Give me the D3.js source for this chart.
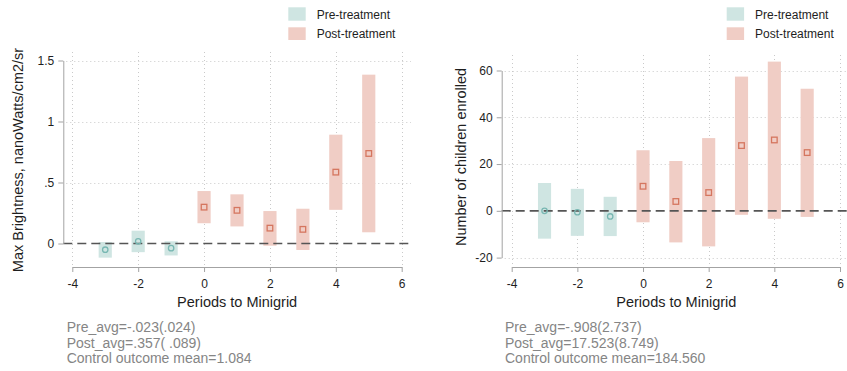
<!DOCTYPE html>
<html>
<head>
<meta charset="utf-8">
<script src="https://cdn.jsdelivr.net/npm/d3@7"></script>
<style>
  html, body { margin: 0; padding: 0; background: #ffffff; }
  svg { display: block; font-family: "Liberation Sans", Arial, Helvetica, sans-serif; }
</style>
</head>
<body>
<svg id="chart" width="847" height="371"></svg>
<script>
// Event-study estimates by period relative to minigrid arrival
const periods = [-3, -2, -1, 0, 1, 2, 3, 4, 5];
const xTicks = [-4, -2, 0, 2, 4, 6];
const xTitle = "Periods to Minigrid";

// Night-time light brightness
const brightEst = [-0.051, 0.018, -0.038, 0.298, 0.272, 0.126, 0.116, 0.585, 0.738];
const brightLo  = [-0.116, -0.071, -0.098, 0.166, 0.140, -0.018, -0.053, 0.276, 0.092];
const brightHi  = [0.012, 0.105, 0.018, 0.430, 0.403, 0.266, 0.285, 0.892, 1.384];
const brightTicks = [0, 0.5, 1, 1.5];
const brightTickLabels = ["0", ".5", "1", "1.5"];
const brightTitle = "Max Brightness, nanoWatts/cm2/sr";
const brightNotes = ["Pre_avg=-.023(.024)", "Post_avg=.357( .089)", "Control outcome mean=1.084"];

// School enrolment
const enrolEst = [0.0, -0.6, -2.4, 10.5, 4.0, 7.8, 27.9, 30.3, 24.9];
const enrolLo  = [-11.9, -10.7, -10.8, -4.9, -13.5, -15.2, -1.7, -3.4, -2.6];
const enrolHi  = [11.9, 9.4, 6.0, 25.9, 21.3, 31.1, 57.4, 63.8, 52.2];
const enrolTicks = [-20, 0, 20, 40, 60];
const enrolTickLabels = ["-20", "0", "20", "40", "60"];
const enrolTitle = "Number of children enrolled";
const enrolNotes = ["Pre_avg=-.908(2.737)", "Post_avg=17.523(8.749)", "Control outcome mean=184.560"];

const legendLabels = ["Pre-treatment", "Post-treatment"];

const colors = {
  preFill: "#cfe5e2",
  preMark: "#78b7b2",
  postFill: "#f0cdc5",
  postMark: "#d5765f",
  axis: "#a3a3a3",
  grid: "#c9c9c9",
  zero: "#555555",
  text: "#1e1e1e",
  note: "#858585"
};

const svg = d3.select("#chart");
svg.append("rect").attr("width", 847).attr("height", 371).attr("fill", "#fff");

function drawPanel(cfg) {
  const g = svg.append("g");
  const x = d3.scaleLinear().domain([xTicks[0], xTicks[xTicks.length - 1]]).range(cfg.xRange);
  const y = d3.scaleLinear().domain([cfg.yTicks[0], cfg.yTicks[cfg.yTicks.length - 1]]).range(cfg.yRange);

  const rows = periods.map((p, i) => ({ p, est: cfg.est[i], lo: cfg.lo[i], hi: cfg.hi[i], pre: p < 0 }));

  // dotted grid
  const grid = g.append("g")
    .attr("stroke", colors.grid).attr("stroke-width", 1).attr("stroke-dasharray", "1,3");
  grid.selectAll("line.h").data(cfg.yTicks.filter(t => t !== 0)).join("line")
    .attr("x1", cfg.plotLeft + 3).attr("x2", cfg.plotRight)
    .attr("y1", d => Math.round(y(d)) + 0.5).attr("y2", d => Math.round(y(d)) + 0.5);
  grid.selectAll("line.v").data(xTicks).join("line")
    .attr("x1", d => Math.round(x(d)) + 0.5).attr("x2", d => Math.round(x(d)) + 0.5)
    .attr("y1", cfg.plotTop).attr("y2", cfg.axisY);

  // confidence bands
  const half = 0.2;
  g.append("g").selectAll("rect").data(rows).join("rect")
    .attr("x", d => x(d.p - half))
    .attr("width", d => x(d.p + half) - x(d.p - half))
    .attr("y", d => y(d.hi))
    .attr("height", d => y(d.lo) - y(d.hi))
    .attr("fill", d => d.pre ? colors.preFill : colors.postFill);

  // zero reference line
  g.append("line")
    .attr("x1", cfg.plotLeft).attr("x2", cfg.plotRight)
    .attr("y1", y(0)).attr("y2", y(0))
    .attr("stroke", colors.zero).attr("stroke-width", 1.6)
    .attr("stroke-dasharray", "9,5");

  // point estimates
  const marks = g.append("g").attr("fill", "none").attr("stroke-width", 1.3);
  marks.selectAll("circle").data(rows.filter(d => d.pre)).join("circle")
    .attr("cx", d => x(d.p)).attr("cy", d => y(d.est)).attr("r", 2.7)
    .attr("stroke", colors.preMark);
  const s = 5.6;
  marks.selectAll("rect").data(rows.filter(d => !d.pre)).join("rect")
    .attr("x", d => x(d.p) - s / 2).attr("y", d => y(d.est) - s / 2)
    .attr("width", s).attr("height", s)
    .attr("stroke", colors.postMark);

  // axes
  const yAxis = g.append("g").attr("transform", `translate(${cfg.axisX},0)`)
    .call(d3.axisLeft(y).tickValues(cfg.yTicks)
      .tickFormat(d => cfg.yTickLabels[cfg.yTicks.indexOf(d)])
      .tickSize(5).tickSizeOuter(0).tickPadding(4));
  const xAxis = g.append("g").attr("transform", `translate(0,${cfg.axisY})`)
    .call(d3.axisBottom(x).tickValues(xTicks).tickFormat(d3.format("d"))
      .tickSize(5).tickSizeOuter(0).tickPadding(7));
  [yAxis, xAxis].forEach(a => {
    a.select(".domain").attr("stroke", colors.axis);
    a.selectAll(".tick line").attr("stroke", colors.axis);
    a.selectAll(".tick text").attr("fill", colors.text)
      .style("font-size", "12px").style("font-family", "'Liberation Sans', Arial, sans-serif");
  });
  xAxis.selectAll(".tick text").text(d => d < 0 ? "-" + Math.abs(d) : d);

  // titles
  g.append("text")
    .attr("transform", `translate(${cfg.yTitleX},${cfg.yTitleY}) rotate(-90)`)
    .attr("text-anchor", "middle").attr("fill", colors.text)
    .style("font-size", "14.5px").text(cfg.yTitle);
  g.append("text")
    .attr("x", (cfg.plotLeft + cfg.plotRight) / 2).attr("y", 306.5)
    .attr("text-anchor", "middle").attr("fill", colors.text)
    .style("font-size", "14.5px").text(xTitle);

  // notes
  g.append("g").selectAll("text").data(cfg.notes).join("text")
    .attr("x", cfg.noteX).attr("y", (d, i) => 332 + i * 15.6)
    .attr("fill", colors.note).style("font-size", "14px").text(d => d);

  // legend
  const leg = g.append("g");
  legendLabels.forEach((lab, i) => {
    leg.append("rect")
      .attr("x", cfg.legendX).attr("y", i === 0 ? 7.3 : 27.3)
      .attr("width", 17.4).attr("height", i === 0 ? 13.4 : 12.7)
      .attr("fill", i === 0 ? colors.preFill : colors.postFill);
    leg.append("text")
      .attr("x", cfg.legendX + 28.4).attr("y", i === 0 ? 19 : 38.3)
      .attr("fill", colors.text).style("font-size", "12px").text(lab);
  });
}

drawPanel({
  est: brightEst, lo: brightLo, hi: brightHi,
  yTicks: brightTicks, yTickLabels: brightTickLabels,
  xRange: [72.3, 401.7], yRange: [243.5, 60.5],
  axisX: 63.3, axisY: 267, plotLeft: 63.3, plotRight: 411, plotTop: 52,
  yTitle: brightTitle, yTitleX: 23.2, yTitleY: 160,
  notes: brightNotes, noteX: 66.7, legendX: 288.3
});

drawPanel({
  est: enrolEst, lo: enrolLo, hi: enrolHi,
  yTicks: enrolTicks, yTickLabels: enrolTickLabels,
  xRange: [511.7, 840], yRange: [257.6, 70.5],
  axisX: 501.7, axisY: 267, plotLeft: 501.7, plotRight: 851, plotTop: 55,
  yTitle: enrolTitle, yTitleX: 466, yTitleY: 157,
  notes: enrolNotes, noteX: 505, legendX: 726.7
});
</script>
</body>
</html>
